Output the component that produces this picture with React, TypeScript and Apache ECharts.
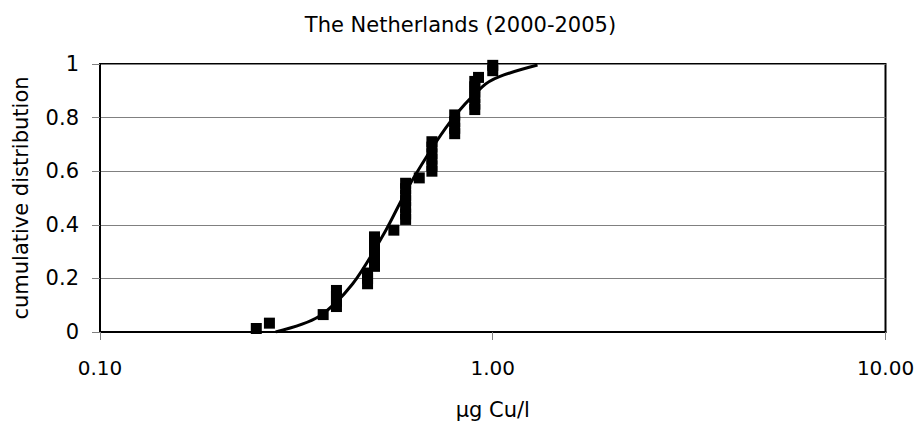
import React, { useEffect, useRef } from "react";
import * as echarts from "echarts";

// Observed copper concentrations (µg Cu/l) and their cumulative distribution
const sampleConc = [
  0.25, 0.27, 0.37,
  0.40, 0.40, 0.40, 0.40,
  0.48, 0.48, 0.48,
  0.50, 0.50, 0.50, 0.50, 0.50, 0.50,
  0.56,
  0.60, 0.60, 0.60, 0.60, 0.60, 0.60, 0.60,
  0.65,
  0.70, 0.70, 0.70, 0.70, 0.70, 0.70,
  0.80, 0.80, 0.80, 0.80,
  0.90, 0.90, 0.90, 0.90, 0.90, 0.90,
  0.92,
  1.00, 1.00,
];
const sampleCum = [
  0.013, 0.033, 0.065,
  0.095, 0.115, 0.135, 0.155,
  0.18, 0.20, 0.22,
  0.245, 0.265, 0.29, 0.31, 0.335, 0.355,
  0.38,
  0.42, 0.44, 0.465, 0.49, 0.51, 0.535, 0.555,
  0.575,
  0.60, 0.62, 0.645, 0.665, 0.69, 0.71,
  0.74, 0.76, 0.785, 0.81,
  0.83, 0.85, 0.875, 0.895, 0.915, 0.935,
  0.95,
  0.975, 0.995,
];

// Fitted distribution curve
const fitConc = [0.28, 0.36, 0.44, 0.53, 0.62, 0.78, 0.94, 1.04, 1.3];
const fitCum = [0.0, 0.057, 0.18, 0.37, 0.56, 0.785, 0.915, 0.953, 0.996];

const yTicks = [0, 0.2, 0.4, 0.6, 0.8, 1];
const xTicks = [0.1, 1, 10];

const FONT = "DejaVu Sans";

export default function App() {
  const ref = useRef<HTMLDivElement>(null);

  useEffect(() => {
    if (!ref.current) return;
    const chart = echarts.init(ref.current, undefined, { renderer: "svg" });
    chart.setOption({
      animation: false,
      backgroundColor: "#ffffff",
      title: {
        text: "The Netherlands (2000-2005)",
        left: "center",
        top: 9,
        textStyle: {
          fontFamily: FONT,
          fontSize: 21,
          fontWeight: "normal",
          color: "#000",
        },
      },
      grid: {
        left: 100,
        right: 35.5,
        top: 64,
        bottom: 93,
        show: true,
        borderColor: "#000",
        borderWidth: 2,
        backgroundColor: "transparent",
      },
      xAxis: {
        type: "log",
        logBase: 10,
        min: xTicks[0],
        max: xTicks[xTicks.length - 1],
        name: "µg Cu/l",
        nameLocation: "middle",
        nameGap: 67,
        nameTextStyle: { fontFamily: FONT, fontSize: 21, color: "#000" },
        axisLine: { show: true, onZero: false, lineStyle: { color: "#000", width: 2 } },
        axisTick: { show: true, length: 8, lineStyle: { color: "#808080", width: 1 } },
        minorTick: { show: false },
        splitLine: { show: false },
        axisLabel: {
          margin: 26,
          fontFamily: FONT,
          fontSize: 20,
          color: "#000",
          formatter: (v: number) => v.toFixed(2),
        },
      },
      yAxis: {
        type: "value",
        min: yTicks[0],
        max: yTicks[yTicks.length - 1],
        interval: 0.2,
        name: "cumulative distribution",
        nameLocation: "middle",
        nameGap: 69,
        nameTextStyle: { fontFamily: FONT, fontSize: 21, color: "#000" },
        axisLine: { show: true, lineStyle: { color: "#000", width: 2 } },
        axisTick: { show: true, length: 8, lineStyle: { color: "#808080", width: 1 } },
        splitLine: { show: true, lineStyle: { color: "#808080", width: 1 } },
        axisLabel: {
          margin: 21,
          fontFamily: FONT,
          fontSize: 21,
          color: "#000",
          formatter: (v: number) => String(Math.round(v * 10) / 10),
        },
      },
      series: [
        {
          type: "scatter",
          symbol: "rect",
          symbolSize: 11,
          itemStyle: { color: "#000", opacity: 1 },
          data: sampleConc.map((c, i) => [c, sampleCum[i]]),
          z: 2,
        },
        {
          type: "line",
          smooth: 0.3,
          showSymbol: false,
          lineStyle: { color: "#000", width: 3 },
          data: fitConc.map((c, i) => [c, fitCum[i]]),
          z: 3,
        },
      ],
    });
    return () => chart.dispose();
  }, []);

  return (
    <div
      ref={ref}
      style={{ position: "fixed", left: 0, top: 0, width: 921, height: 425, background: "#fff" }}
    />
  );
}
